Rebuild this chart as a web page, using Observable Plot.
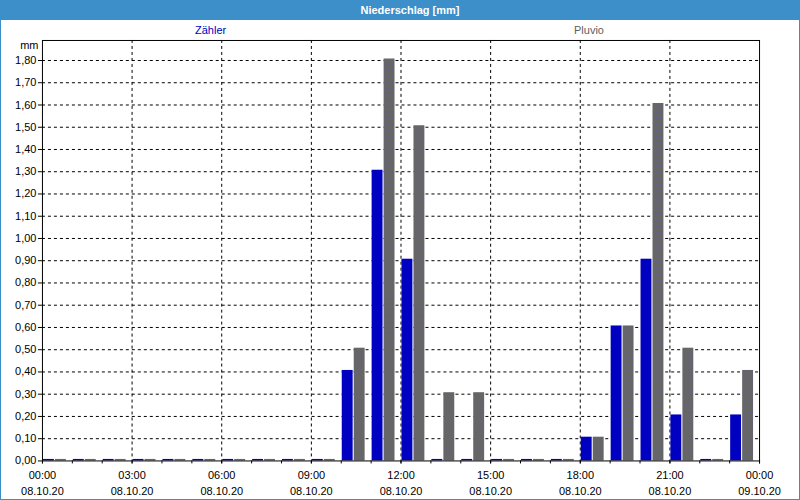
<!DOCTYPE html>
<html><head><meta charset="utf-8">
<script src="https://cdn.jsdelivr.net/npm/d3@7"></script>
<script src="https://cdn.jsdelivr.net/npm/@observablehq/plot@0.6"></script>
<style>
html,body{margin:0;padding:0;background:#fff;}
#wrap{position:relative;width:798px;height:499px;border:1px solid #3c8fc8;border-top:none;overflow:hidden;font-family:"Liberation Sans",Arial,sans-serif;}
#title{height:20px;background:#3c8fc8;color:#fff;font-weight:bold;font-size:11px;line-height:20px;text-align:center;padding-left:20px;}
.leg{position:absolute;top:24px;font-size:11px;z-index:2;}
#chart{position:absolute;left:-1px;top:20px;z-index:1;}
</style></head><body>
<div id="wrap">
<div id="title">Niederschlag [mm]</div>
<div id="chart"></div>
<span class="leg" style="left:194px;color:#0000c0">Zähler</span>
<span class="leg" style="left:573px;color:#606060">Pluvio</span>
</div>
<script>
const hours = d3.range(24);
const zaehler = [0,0,0,0,0,0,0,0,0,0,0.4,1.3,0.9,0,0,0,0,0,0.1,0.6,0.9,0.2,0,0.2];
const pluvio  = [0,0,0,0,0,0,0,0,0,0,0.5,1.8,1.5,0.3,0.3,0,0,0,0.1,0.6,1.6,0.5,0,0.4];
const majorTicks = [0,3,6,9,12,15,18,21,24];
const timeLabels = ["00:00","03:00","06:00","09:00","12:00","15:00","18:00","21:00","00:00"];
const dateLabels = ["08.10.20","08.10.20","08.10.20","08.10.20","08.10.20","08.10.20","08.10.20","08.10.20","09.10.20"];
const yTicks = d3.range(0, 19).map(i => i / 10);

const dataZ = hours.map((h, i) => ({h, v: zaehler[i]}));
const dataP = hours.map((h, i) => ({h, v: pluvio[i]}));
const fmtY = d => d.toFixed(2).replace(".", ",");

const plot = Plot.plot({
  width: 800, height: 480,
  marginTop: 20, marginBottom: 39, marginLeft: 42, marginRight: 40,
  style: {fontFamily: "'Liberation Sans', Arial, sans-serif", fontSize: "11px", color: "#000", background: "#fff"},
  x: {domain: [0, 24]},
  y: {domain: [0, 1.89]},
  marks: [
    Plot.gridY(yTicks.filter(d => d > 0), {stroke: "#000", strokeOpacity: 1, strokeDasharray: "3,3"}),
    Plot.gridX(majorTicks.filter(d => d > 0 && d < 24), {stroke: "#000", strokeOpacity: 1, strokeDasharray: "3,3"}),
    Plot.rect(dataZ, {x1: "h", x2: d => d.h + 1, y1: 0, y2: "v", fill: "#0000c0", insetLeft: 1, insetRight: 18, insetTop: -1.5}),
    Plot.rect(dataP, {x1: "h", x2: d => d.h + 1, y1: 0, y2: "v", fill: "url(#dots)", insetLeft: 13, insetRight: 6, insetTop: -1.5}),
    Plot.axisY({ticks: yTicks, tickFormat: fmtY, tickSize: 4, tickPadding: 2, label: null}),
    Plot.axisX({ticks: d3.range(25), tickSize: 3, tickFormat: () => "", label: null}),
    Plot.axisX({ticks: majorTicks, tickSize: 3, tickPadding: 3, label: null,
      tickFormat: (d) => { const i = majorTicks.indexOf(d); return timeLabels[i] + "\n" + dateLabels[i]; }, lineHeight: 1.5}),
    Plot.text(["mm"], {frameAnchor: "top-left", dx: -4, dy: 1, textAnchor: "end"}),
    Plot.frame({stroke: "#000"})
  ]
});

const svg = d3.select(plot);
const defs = svg.insert("defs", ":first-child");
const pat = defs.append("pattern").attr("id", "dots").attr("patternUnits", "userSpaceOnUse").attr("width", 4).attr("height", 6);
pat.append("rect").attr("width", 4).attr("height", 6).attr("fill", "#666666");
pat.append("rect").attr("x", 1).attr("y", 2).attr("width", 1).attr("height", 1).attr("fill", "#5a5a9a");
document.getElementById("chart").appendChild(plot);
</script>
</body></html>
